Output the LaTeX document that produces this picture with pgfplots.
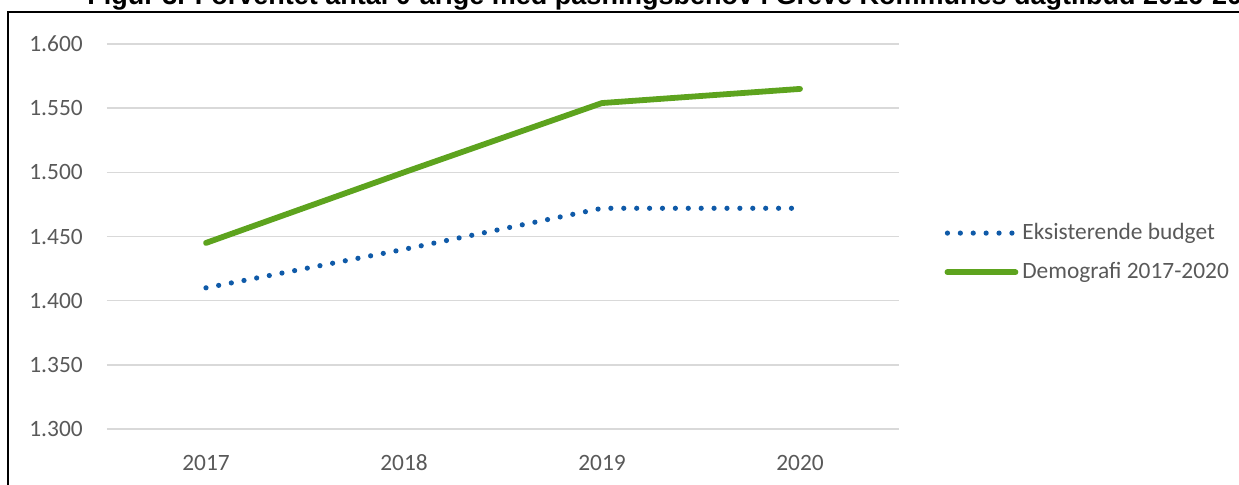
\documentclass[border=0pt]{standalone}
\usepackage{fontspec}
\usepackage{pgfplots}
\pgfplotsset{compat=1.18}
\setmainfont{Carlito}
\newfontfamily\arialfont{Liberation Sans}
\definecolor{txt}{HTML}{595959}
\definecolor{gridc}{HTML}{D9D9D9}
\definecolor{budget}{HTML}{0F5AA8}
\definecolor{demo}{HTML}{5DA31E}

\begin{document}
\begin{tikzpicture}
  % 1 px of the reference = 0.5pt
  \useasboundingbox (0,0) rectangle (619.5pt,242pt);
  % frame and cropped title
  \draw[line width=1pt,black] (4pt,-20pt) -- (4pt,236pt) -- (1000pt,236pt);
  \node[anchor=base west,inner sep=0pt,font=\arialfont\bfseries\fontsize{13.5}{16}\selectfont]
    at (43.5pt,239.7pt) {Figur 3. Forventet antal 0-årige med pasningsbehov i Greve Kommunes dagtilbud 2016-2020};

  \begin{axis}[
      at={(53.5pt,27.5pt)}, anchor=south west,
      scale only axis,
      width=396pt, height=192.5pt,
      xmin=2016.5, xmax=2020.5,
      ymin=1300, ymax=1600,
      xtick=data,
      ytick={1300,1350,...,1600},
      axis line style={draw=none},
      tick style={draw=none},
      ymajorgrids,
      grid style={gridc,line width=0.75pt},
      font=\fontsize{11.7}{14}\selectfont,
      ticklabel style={text=txt},
      /pgf/number format/assume math mode=true,
      xticklabel style={/pgf/number format/1000 sep={},yshift=-9.4pt},
      yticklabel style={/pgf/number format/.cd,1000 sep={.},fixed,/tikz/.cd,xshift=-8.6pt},
      legend style={draw=none,fill=none,at={(axis description cs:1.057,0.458)},anchor=west,
        text=txt,font=\fontsize{11.7}{14}\selectfont,row sep=6pt,inner sep=0pt},
      legend cell align=left,
      legend image code/.code={\draw[#1] (0pt,0pt) -- (34pt,0pt);},
      /tikz/every even column/.style={column sep=0pt},
    ]
    \addplot[budget,line width=2.6pt,line cap=round,dash pattern=on 0pt off 6.45pt]
      coordinates {(2017,1410) (2018,1440) (2019,1472) (2020,1472)};
    \addlegendentry{Eksisterende budget}
    \addplot[demo,line width=2.9pt,line cap=round,line join=round]
      coordinates {(2017,1445) (2018,1500) (2019,1554) (2020,1565)};
    \addlegendentry{Demografi 2017-2020}
  \end{axis}
\end{tikzpicture}
\end{document}
